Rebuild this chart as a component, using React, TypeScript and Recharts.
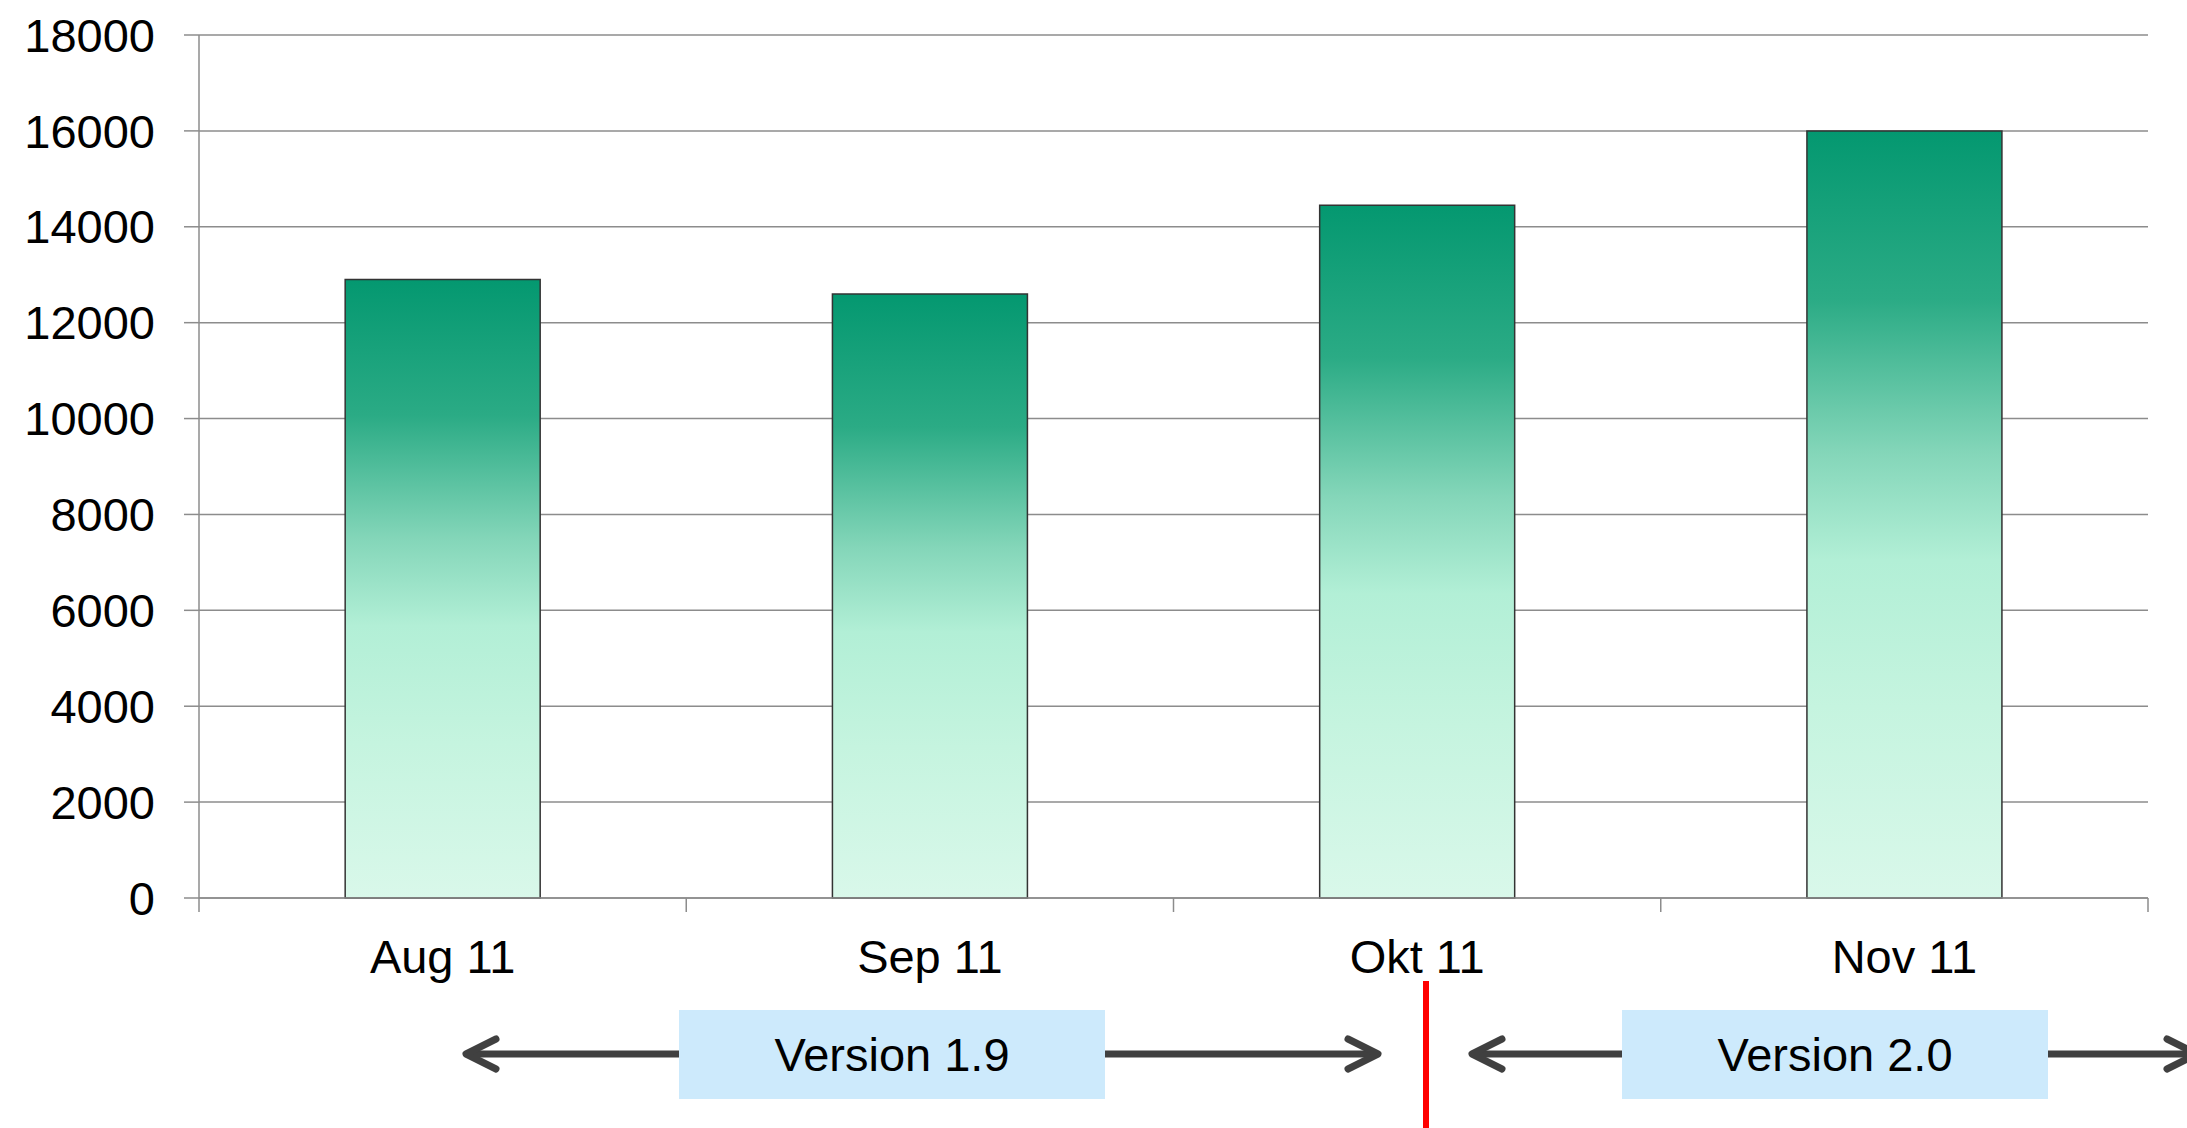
import { Bar, BarChart, CartesianGrid, XAxis, YAxis } from "recharts";

const months = ["Aug 11", "Sep 11", "Okt 11", "Nov 11"];
const downloads = [12900, 12600, 14450, 16000];
const yTicks = [0, 2000, 4000, 6000, 8000, 10000, 12000, 14000, 16000, 18000];

const data = months.map((m, i) => ({ month: m, value: downloads[i] }));

const FONT = "'Liberation Sans', Arial, sans-serif";
const GRID = "#8c8c8c";

function MonthTick(props: any) {
  const { x, y, payload, index, visibleTicksCount } = props;
  const half = payload.offset ?? 0;
  const last = index === visibleTicksCount - 1;
  return (
    <g>
      <line x1={x - half} x2={x - half} y1={y} y2={y + 14} stroke={GRID} strokeWidth={1.5} />
      {last && (
        <line x1={x + half} x2={x + half} y1={y} y2={y + 14} stroke={GRID} strokeWidth={1.5} />
      )}
      <text x={x} y={y + 42} dy="0.71em" textAnchor="middle" fontSize={47} fill="#000" fontFamily={FONT}>
        {payload.value}
      </text>
    </g>
  );
}

// double arrow with a label box sitting on it
function VersionArrow({ x1, x2, y, boxX, boxW, label }: any) {
  const head = 30;
  const spread = 15;
  const l = x1 + 3;
  const r = x2 - 3;
  return (
    <g>
      <line x1={l} x2={r} y1={y} y2={y} stroke="#404040" strokeWidth={7} />
      <polyline
        points={`${l + head},${y - spread} ${l},${y} ${l + head},${y + spread}`}
        fill="none"
        stroke="#404040"
        strokeWidth={7}
        strokeLinecap="round"
        strokeLinejoin="round"
      />
      <polyline
        points={`${r - head},${y - spread} ${r},${y} ${r - head},${y + spread}`}
        fill="none"
        stroke="#404040"
        strokeWidth={7}
        strokeLinecap="round"
        strokeLinejoin="round"
      />
      <rect x={boxX} y={y - 44} width={boxW} height={89} fill="#cdeafc" />
      <text
        x={boxX + boxW / 2}
        y={y}
        dominantBaseline="central"
        textAnchor="middle"
        fontSize={47}
        fill="#000"
        fontFamily={FONT}
      >
        {label}
      </text>
    </g>
  );
}

export default function App() {
  return (
    <div style={{ position: "absolute", left: 0, top: 0, width: 2187, height: 1128, background: "#fff" }}>
      <BarChart
        width={2187}
        height={1128}
        data={data}
        margin={{ top: 35, right: 39, left: 0, bottom: 0 }}
        barCategoryGap="30%"
      >
        <defs>
          <linearGradient id="barGrad" x1="0" y1="0" x2="0" y2="1">
            <stop offset="0%" stopColor="#049870" />
            <stop offset="22%" stopColor="#2bab85" />
            <stop offset="42%" stopColor="#84d6b9" />
            <stop offset="56%" stopColor="#b2efd6" />
            <stop offset="75%" stopColor="#c5f4df" />
            <stop offset="100%" stopColor="#d9f8ea" />
          </linearGradient>
        </defs>
        <CartesianGrid vertical={false} stroke={GRID} strokeWidth={1.5} />
        <XAxis
          dataKey="month"
          height={230}
          axisLine={{ stroke: GRID, strokeWidth: 1.5 }}
          tickLine={false}
          tickSize={0}
          tickMargin={0}
          interval={0}
          tick={<MonthTick />}
        />
        <YAxis
          width={199}
          domain={[0, 18000]}
          ticks={yTicks}
          interval={0}
          axisLine={{ stroke: GRID, strokeWidth: 1.5 }}
          tickLine={{ stroke: GRID, strokeWidth: 1.5 }}
          tickSize={15}
          tickMargin={29}
          tick={{ fontSize: 47, fill: "#000", fontFamily: FONT }}
        />
        <Bar
          dataKey="value"
          fill="url(#barGrad)"
          stroke="#333"
          strokeWidth={1.5}
          isAnimationActive={false}
        />
      </BarChart>
      <svg
        width={2187}
        height={1128}
        style={{ position: "absolute", left: 0, top: 0, pointerEvents: "none" }}
      >
        <VersionArrow x1={463} x2={1381} y={1054} boxX={679} boxW={426} label="Version 1.9" />
        <line x1={1426} x2={1426} y1={981} y2={1128} stroke="#ff0000" strokeWidth={6} />
        <VersionArrow x1={1469} x2={2200} y={1054} boxX={1622} boxW={426} label="Version 2.0" />
      </svg>
    </div>
  );
}
